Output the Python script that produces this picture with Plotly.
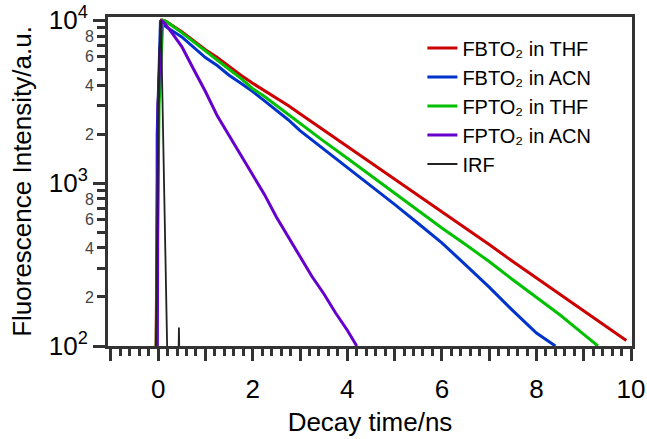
import plotly.graph_objects as go

# decay curves (time in ns, counts in a.u.)
t_fbto2_thf = [-0.05, 0.0, 0.07, 0.15, 0.3, 0.5, 0.75, 1.0, 1.25, 1.5, 1.75, 2.0, 2.25, 2.5, 2.75,
               3.0, 3.5, 4.0, 4.5, 5.0, 5.5, 6.0, 6.5, 7.0, 7.5, 8.0, 8.5, 9.0, 9.5, 9.9]
i_fbto2_thf = [60, 3000, 10000, 9900, 9300, 8500, 7500, 6600, 5900, 5200, 4600, 4100, 3700, 3300, 3000,
               2670, 2120, 1680, 1330, 1060, 840, 665, 530, 420, 330, 262, 207, 165, 130, 108]

t_fbto2_acn = [-0.03, -0.02, 0.05, 0.15, 0.5, 0.75, 1.0, 1.25, 1.5, 1.75, 2.0, 2.25, 2.5, 2.75,
               3.0, 3.5, 4.0, 4.5, 5.0, 5.5, 6.0, 6.5, 7.0, 7.5, 8.0, 8.4]
i_fbto2_acn = [50, 2000, 10000, 9200, 7900, 6800, 5900, 5270, 4600, 4100, 3650, 3200, 2800, 2450,
               2100, 1620, 1250, 960, 740, 565, 430, 315, 230, 165, 120, 100]

t_fpto2_thf = [-0.05, 0.02, 0.1, 0.2, 0.5, 0.75, 1.0, 1.25, 1.5, 1.75, 2.0, 2.25, 2.5, 2.75,
               3.0, 3.5, 4.0, 4.5, 5.0, 5.5, 6.0, 6.5, 7.0, 7.5, 8.0, 8.5, 9.0, 9.3]
i_fpto2_thf = [60, 3000, 10000, 9700, 8400, 7400, 6500, 5750, 5000, 4400, 3800, 3400, 3000, 2650,
               2310, 1810, 1420, 1110, 870, 680, 530, 420, 330, 255, 200, 155, 118, 100]

t_fpto2_acn = [-0.02, 0.0, 0.07, 0.15, 0.3, 0.5, 0.75, 1.0, 1.25, 1.5, 1.75, 2.0, 2.25, 2.5, 2.75,
               3.0, 3.25, 3.5, 3.75, 4.0, 4.2]
i_fpto2_acn = [50, 3000, 10000, 9500, 8300, 6900, 5000, 3650, 2590, 1960, 1480, 1130, 850, 620, 470,
               350, 268, 210, 160, 125, 100]

t_irf = [-0.06, -0.02, 0.02, 0.06, 0.1, 0.14, 0.2, 0.21, None, 0.42, 0.44, 0.46]
i_irf = [50, 800, 6000, 10000, 2500, 600, 100, 50, None, 50, 130, 50]

series = [
    ('FBTO₂ in THF', t_fbto2_thf, i_fbto2_thf, '#cc0000', 1),
    ('FBTO₂ in ACN', t_fbto2_acn, i_fbto2_acn, '#0033cc', 2),
    ('FPTO₂ in THF', t_fpto2_thf, i_fpto2_thf, '#00c000', 3),
    ('FPTO₂ in ACN', t_fpto2_acn, i_fpto2_acn, '#6600cc', 4),
    ('IRF', t_irf, i_irf, '#222222', 5),
]

# axis ticks
x_ticks = list(range(-1, 11))
x_ticktext = [str(v) if v % 2 == 0 else '' for v in x_ticks]
y_minor_ticks = [m * 10 ** e for e in (2, 3) for m in range(2, 10)]
y_minor_text = [str(m) if m % 2 == 0 else '' for e in (2, 3) for m in range(2, 10)]
y_decades = [100, 1000, 10000]
y_decade_text = ['10<sup>2</sup>', '10<sup>3</sup>', '10<sup>4</sup>']

font = 'Liberation Sans, Arial, sans-serif'

fig = go.Figure()
for name, t, i, color, rank in series:
    fig.add_trace(go.Scatter(x=t, y=i, name=name, mode='lines', legendrank=rank,
                             line=dict(color=color, width=3 if rank < 5 else 1.8)))
# dummy trace so the decade axis is drawn
fig.add_trace(go.Scatter(x=[None], y=[None], yaxis='y2', showlegend=False, hoverinfo='skip'))

fig.update_layout(
    width=647, height=439,
    paper_bgcolor='white', plot_bgcolor='white',
    margin=dict(l=108, r=15, t=17, b=93),
    font=dict(family=font, color='black'),
    xaxis=dict(
        range=[-1.06, 10.02], automargin=False,
        tickvals=x_ticks, ticktext=x_ticktext,
        ticks='outside', ticklen=12, tickwidth=2.5, tickcolor='#333',
        minor=dict(dtick=0.2, ticks='outside', ticklen=7, tickwidth=2.5, tickcolor='#333'),
        tickfont=dict(size=26), ticklabelstandoff=6,
        showline=True, linecolor='#333', linewidth=3, mirror=True,
        showgrid=False, zeroline=False,
        title=dict(text='Decay time/ns', font=dict(size=26), standoff=10)),
    yaxis=dict(
        type='log', range=[2, 4.02], automargin=False,
        tickvals=y_minor_ticks, ticktext=y_minor_text,
        ticks='outside', ticklen=8, tickwidth=2.5, tickcolor='#333',
        tickfont=dict(size=16, color='#444'),
        showline=True, linecolor='#333', linewidth=3, mirror=True,
        showgrid=False, zeroline=False),
    yaxis2=dict(
        type='log', range=[2, 4.02], overlaying='y', side='left', automargin=False,
        tickvals=y_decades, ticktext=y_decade_text,
        ticks='outside', ticklen=14, tickwidth=2.5, tickcolor='#333',
        tickfont=dict(size=26),
        showline=False, showgrid=False, zeroline=False,
        title=dict(text='Fluorescence Intensity/a.u.', font=dict(size=26), standoff=9)),
    legend=dict(x=0.6, y=0.965, xanchor='left', yanchor='top',
                font=dict(size=20), bgcolor='rgba(0,0,0,0)',
                tracegroupgap=0, itemwidth=30),
    showlegend=True,
)

# drop the page's default body margin so the figure sits at the window origin
fig.write_html('out.html', config={'displayModeBar': False},
               post_script="document.body.style.margin='0';")
